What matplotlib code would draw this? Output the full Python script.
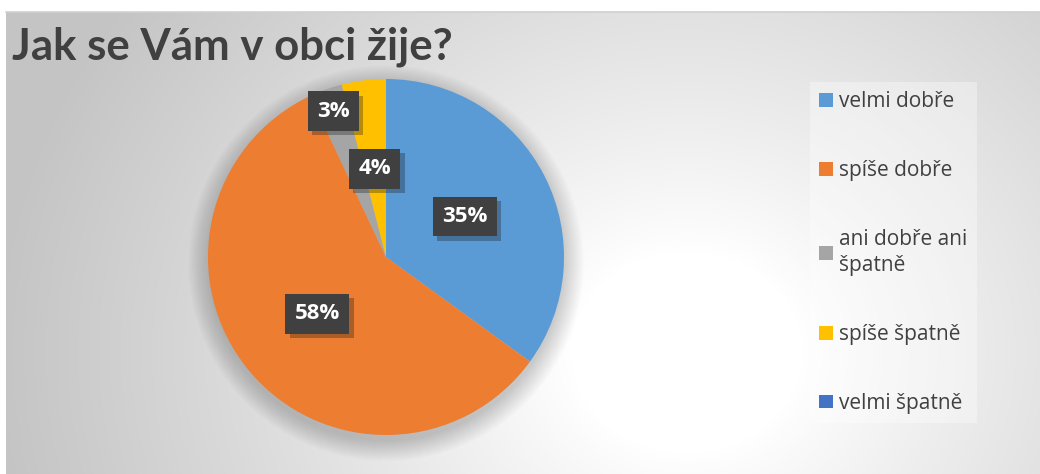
import matplotlib
import numpy as np

matplotlib.use('Agg')
import matplotlib.pyplot as plt
from matplotlib import patheffects
from matplotlib.patches import Circle

title = 'Jak se Vám v obci žije?'
categories = ['velmi dobře', 'spíše dobře', 'ani dobře ani\nšpatně', 'spíše špatně', 'velmi špatně']
shares = [35, 58, 3, 4, 0]
colors = ['#5B9BD5', '#ED7D31', '#A5A5A5', '#FFC000', '#4472C4']

plt.rcParams['font.family'] = ['Lato', 'DejaVu Sans']

W, H = 1040, 474
fig = plt.figure(figsize=(W / 100, H / 100), dpi=100)
fig.patch.set_facecolor('white')

# chart area with radial grey-to-white gradient
bg = fig.add_axes([6 / W, 0, (W - 6) / W, (H - 12) / H])
yy, xx = np.mgrid[0:462, 0:1034]
dist = np.hypot((xx - 680) / 640, (yy - 340) / 560)
shade = 1.0 - 0.23 * np.clip((dist - 0.18) / 0.9, 0, 1) ** 0.9
bg.imshow(np.dstack([shade] * 3), aspect='auto', extent=(0, 1, 0, 1), origin='upper', interpolation='bilinear')
bg.set_xlim(0, 1)
bg.set_ylim(0, 1)
bg.set_xticks([])
bg.set_yticks([])
for side in ('left', 'right', 'bottom'):
    bg.spines[side].set_visible(False)
bg.spines['top'].set_color('#d0d0d0')
bg.spines['top'].set_linewidth(1.2)

# pie axes: centre (386, 257), radius 178 px
radius_px = 178
ax = fig.add_axes([(386 - radius_px) / W, (H - 257 - radius_px) / H, 2 * radius_px / W, 2 * radius_px / H])
ax.set_facecolor('none')

# soft shadow round the pie
for i in range(12):
    ax.add_patch(Circle((0, -0.035), 1.0 + 0.01 * i, color='black', alpha=0.016, lw=0, zorder=0, clip_on=False))

wedges, _ = ax.pie(shares, colors=colors, startangle=90, counterclock=False, radius=1.0,
                   wedgeprops={'linewidth': 0, 'zorder': 2})
ax.set_xlim(-1, 1)
ax.set_ylim(-1, 1)
ax.set_aspect('equal')
ax.axis('off')

for wedge, value in zip(wedges, shares):
    if value == 0:
        continue
    mid = np.deg2rad((wedge.theta1 + wedge.theta2) / 2)
    r = 0.87 if value < 4 else 0.5
    ax.text(r * np.cos(mid), r * np.sin(mid), f'{value}%', ha='center', va='center',
            color='white', fontsize=16, fontweight='bold', zorder=5,
            family=['Open Sans', 'DejaVu Sans'],
            bbox={'boxstyle': 'square,pad=0.42', 'facecolor': '#404040', 'edgecolor': 'none',
                  'path_effects': [patheffects.SimplePatchShadow(offset=(3, -3), alpha=0.3),
                                   patheffects.Normal()]})

fig.text(12 / W, 1 - 47 / H, title, fontsize=31.5, fontweight='bold', color='#404040', va='center', ha='left')

legend = fig.legend(wedges, categories, loc='upper left', bbox_to_anchor=(810 / W, 1 - 82 / H),
                    frameon=True, fancybox=False, labelcolor='#404040',
                    prop={'family': ['Open Sans', 'DejaVu Sans'], 'size': 15},
                    handlelength=0.65, handleheight=0.65, handletextpad=0.3,
                    labelspacing=2.3, borderpad=0.45, borderaxespad=0)
legend.get_frame().set_facecolor('white')
legend.get_frame().set_alpha(0.35)
legend.get_frame().set_edgecolor('none')
for text in legend.get_texts():
    text.set_linespacing(1.3)

fig.savefig('out.png', dpi=100)
